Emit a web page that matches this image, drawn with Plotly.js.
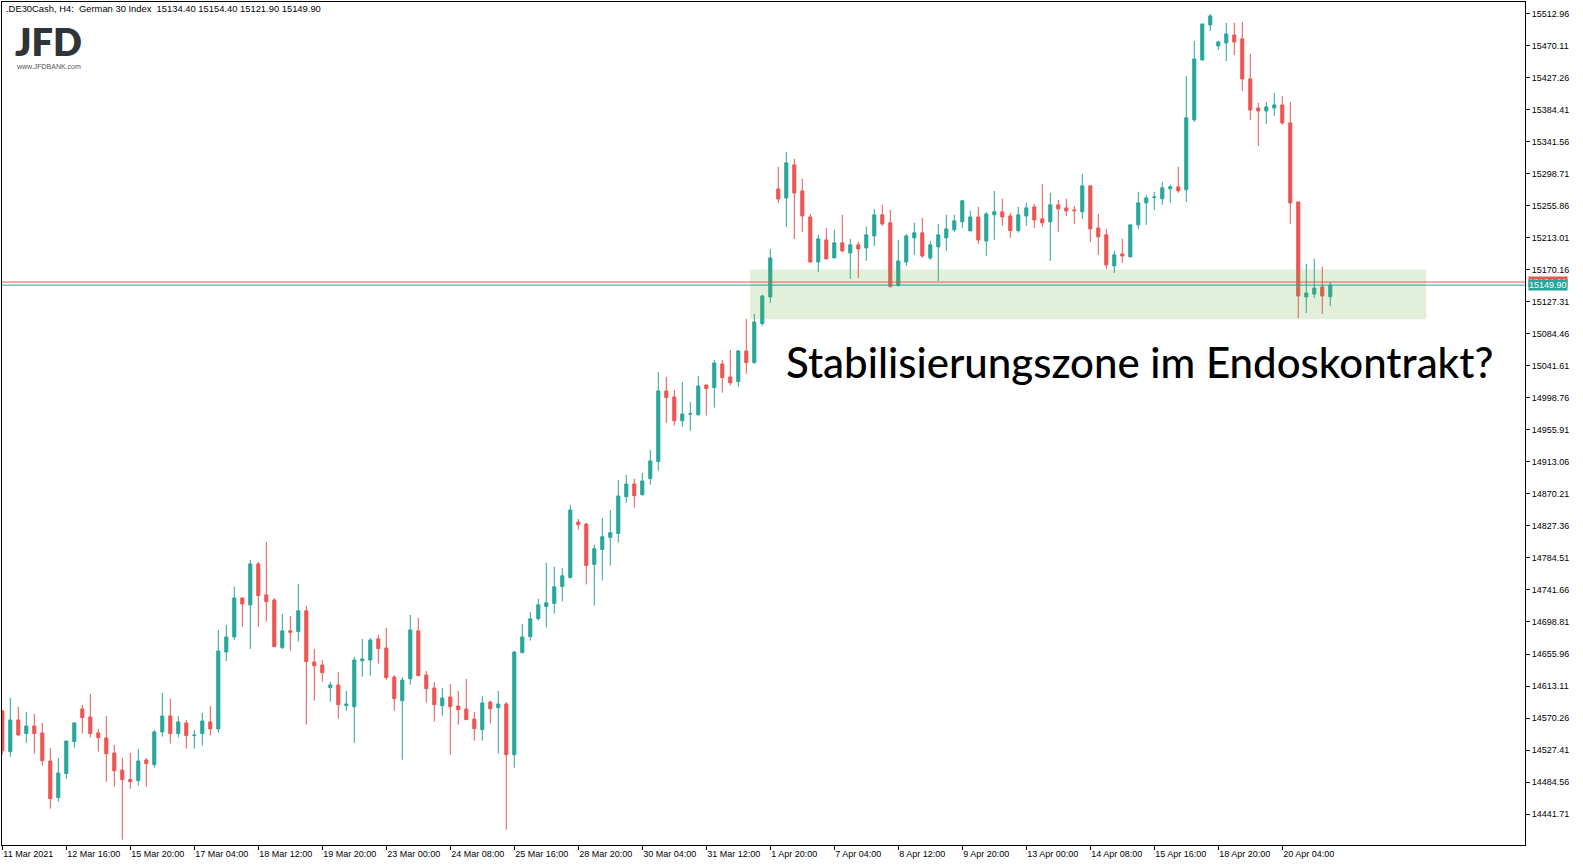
<!DOCTYPE html>
<html>
<head>
<meta charset="utf-8">
<script src="https://cdn.plot.ly/plotly-3.0.1.min.js"></script>
<style>
  html, body { margin:0; padding:0; background:#fff; }
  #chart { width:1583px; height:866px; }
</style>
</head>
<body>
<div id="chart"></div>
<script>
// ---- Data (DE30Cash H4) ----
const openP = [
14579.7,14525.2,14567.6,14549.4,14559.6,14550.3,14512.7,14463.6,14495.7,14538.6,
14582.4,14571.7,14550.3,14543.5,14523.4,14500.5,14487.8,14486.4,14514.0,14507.7,
14551.6,14573.0,14549.4,14563.6,14546.9,14549.4,14565.0,14555.6,14658.6,14678.8,
14731.0,14721.7,14776.6,14735.1,14728.3,14664.5,14686.9,14686.0,14713.8,14645.2,
14641.2,14610.9,14614.5,14586.8,14585.4,14647.0,14647.9,14676.1,14664.0,14625.1,
14593.4,14622.8,14686.9,14627.8,14610.4,14586.8,14598.4,14586.3,14582.3,14569.0,
14554.8,14591.7,14584.1,14589.0,14521.1,14657.7,14679.2,14703.4,14719.5,14723.6,
14746.3,14758.5,14832.7,14830.0,14775.9,14796.0,14812.1,14817.4,14866.6,14883.6,
14869.3,14890.8,14913.6,15008.2,15000.2,14968.3,14977.3,14976.4,15016.2,15012.7,
15044.3,15026.9,15020.7,15061.8,15046.1,15098.3,15134.0,15278.7,15266.6,15310.9,
15276.0,15241.2,15180.9,15210.4,15186.3,15206.5,15193.0,15203.8,15199.7,15215.8,
15244.0,15233.3,15149.3,15180.9,15213.1,15219.9,15186.3,15201.1,15213.1,15223.9,
15234.6,15222.5,15241.2,15209.1,15244.0,15248.0,15242.5,15222.9,15242.5,15254.6,
15238.6,15234.6,15257.4,15253.3,15250.6,15248.0,15282.8,15226.5,15217.2,15175.6,
15191.7,15187.7,15230.6,15260.0,15267.3,15265.5,15278.9,15281.5,15277.5,15371.2,
15451.3,15498.3,15470.2,15474.2,15484.9,15479.6,15426.0,15387.1,15383.1,15387.1,
15391.2,15367.1,15261.3,15134.0,15138.0,15147.5,15134.4
];
const highP = [
14581.0,14597.1,14585.1,14578.4,14575.7,14563.6,14530.1,14516.6,14539.5,14564.9,
14587.8,14602.5,14555.6,14573.0,14534.1,14516.6,14523.4,14528.8,14516.6,14554.3,
14603.9,14595.9,14573.0,14567.6,14554.3,14577.1,14586.4,14688.1,14694.9,14745.8,
14731.0,14781.9,14779.3,14806.1,14731.0,14709.6,14706.9,14749.8,14720.4,14662.7,
14647.9,14618.5,14631.8,14606.5,14652.0,14676.1,14677.4,14681.5,14690.8,14627.8,
14625.1,14708.3,14704.3,14633.2,14618.5,14610.4,14615.8,14606.5,14622.5,14578.4,
14599.8,14593.1,14606.5,14591.7,14660.0,14696.2,14712.3,14729.8,14778.0,14772.7,
14771.3,14855.6,14836.8,14831.4,14802.3,14838.1,14848.8,14889.1,14895.8,14890.5,
14898.5,14929.3,15033.6,15026.9,15009.5,15020.2,14993.5,15028.2,15016.2,15049.6,
15049.6,15063.1,15063.1,15104.6,15111.2,15136.7,15198.4,15308.1,15328.2,15318.9,
15292.1,15245.2,15217.2,15226.5,15223.9,15244.0,15211.8,15207.8,15228.0,15252.0,
15257.4,15250.7,15210.4,15218.5,15233.3,15240.0,15209.2,15231.9,15244.0,15244.0,
15264.1,15249.4,15254.6,15248.0,15276.0,15265.5,15246.7,15254.6,15260.0,15258.7,
15285.5,15273.5,15264.1,15265.5,15256.0,15298.9,15282.8,15245.2,15225.2,15195.7,
15211.8,15230.6,15274.8,15270.8,15274.8,15288.2,15284.2,15308.4,15430.1,15476.9,
15499.6,15513.1,15476.9,15501.0,15501.0,15502.3,15459.4,15393.9,15395.2,15407.3,
15403.2,15395.2,15261.3,15178.2,15185.0,15174.3,15154.4
];
const lowP = [
14521.4,14518.4,14546.2,14537.2,14522.5,14506.4,14448.8,14458.2,14488.9,14530.6,
14549.4,14544.0,14525.2,14484.9,14478.2,14407.3,14475.5,14479.6,14478.2,14503.7,
14545.3,14535.9,14544.0,14529.2,14529.2,14533.2,14546.7,14550.7,14646.6,14674.8,
14692.2,14662.7,14692.2,14699.3,14665.8,14662.7,14660.4,14672.6,14561.3,14593.4,
14618.9,14592.1,14569.4,14580.0,14537.2,14625.5,14626.9,14643.0,14621.5,14580.0,
14514.4,14614.8,14626.9,14590.8,14565.4,14573.4,14521.1,14561.3,14568.1,14539.9,
14539.9,14562.8,14522.5,14420.7,14503.7,14657.7,14673.9,14700.7,14691.4,14710.2,
14726.2,14757.1,14822.5,14749.1,14721.0,14754.4,14774.6,14805.3,14858.6,14851.9,
14868.0,14882.8,14901.5,14965.6,14961.7,14960.3,14954.9,14975.1,14975.1,14985.9,
15005.9,15015.3,15013.9,15031.2,15044.8,15095.6,15125.9,15259.9,15227.8,15211.7,
15221.1,15179.6,15167.5,15185.0,15186.3,15194.3,15158.2,15159.5,15182.3,15202.4,
15229.2,15146.6,15147.9,15175.6,15190.4,15186.3,15183.6,15155.5,15195.7,15221.1,
15226.5,15222.5,15205.1,15189.0,15210.4,15229.2,15213.1,15220.3,15229.2,15226.5,
15227.9,15182.3,15221.1,15242.5,15231.9,15238.6,15207.7,15190.4,15171.6,15166.2,
15179.6,15187.7,15225.2,15230.6,15250.6,15257.4,15260.0,15273.5,15261.3,15368.6,
15451.3,15490.2,15464.8,15450.0,15458.0,15409.9,15371.2,15336.2,15365.7,15376.4,
15364.4,15231.9,15105.9,15112.6,15132.6,15111.3,15121.9
];
const closeP = [
14526.5,14567.6,14547.6,14559.6,14549.4,14513.1,14462.2,14496.6,14539.5,14563.6,
14570.8,14549.4,14544.0,14522.5,14499.6,14487.8,14485.1,14512.7,14509.1,14551.6,
14573.0,14549.4,14565.0,14546.7,14547.3,14566.3,14555.6,14660.0,14678.8,14731.0,
14723.0,14776.6,14734.2,14726.1,14665.8,14686.9,14685.1,14713.8,14645.7,14640.3,
14630.9,14614.5,14588.1,14589.0,14647.9,14649.3,14674.7,14663.1,14624.2,14596.1,
14621.0,14688.1,14626.9,14609.5,14588.1,14597.0,14585.4,14581.4,14568.1,14556.0,
14590.4,14582.7,14589.0,14521.1,14658.6,14678.8,14703.0,14721.8,14724.5,14745.9,
14760.6,14848.8,14829.1,14774.6,14796.9,14813.0,14818.4,14867.5,14883.6,14868.0,
14887.7,14914.5,15008.2,14999.3,14968.3,14977.3,14977.7,15014.8,15011.3,15045.7,
15026.0,15019.3,15061.8,15046.1,15100.5,15135.3,15186.3,15265.3,15313.6,15273.3,
15242.5,15180.9,15211.8,15185.0,15206.5,15195.7,15203.8,15198.4,15217.2,15244.0,
15231.9,15147.9,15182.3,15215.8,15219.9,15189.0,15203.8,15217.2,15225.2,15236.0,
15262.8,15241.2,15210.4,15245.2,15248.0,15241.2,15222.9,15244.0,15253.3,15237.2,
15233.3,15257.4,15252.0,15249.3,15249.6,15282.8,15225.2,15214.5,15177.0,15190.4,
15189.0,15230.6,15260.0,15266.7,15267.9,15280.2,15281.5,15276.2,15373.9,15452.7,
15499.6,15510.4,15475.5,15486.2,15475.5,15426.0,15384.4,15383.1,15388.5,15391.2,
15367.1,15260.0,15135.3,15139.4,15146.1,15135.3,15149.9
];

// price-axis labels of the terminal
const yTickVals = [
15512.96,15470.11,15427.26,15384.41,15341.56,15298.71,15255.86,15213.01,15170.16,
15127.31,15084.46,15041.61,14998.76,14955.91,14913.06,14870.21,14827.36,14784.51,
14741.66,14698.81,14655.96,14613.11,14570.26,14527.41,14484.56,14441.71
];
// time labels (one every 8 bars)
const timeLabels = [
'11 Mar 2021','12 Mar 16:00','15 Mar 20:00','17 Mar 04:00','18 Mar 12:00',
'19 Mar 20:00','23 Mar 00:00','24 Mar 08:00','25 Mar 16:00','28 Mar 20:00',
'30 Mar 04:00','31 Mar 12:00','1 Apr 20:00','7 Apr 04:00','8 Apr 12:00',
'9 Apr 20:00','13 Apr 00:00','14 Apr 08:00','15 Apr 16:00','18 Apr 20:00',
'20 Apr 04:00'
];
const barsPerLabel = 8;

const bidPrice = 15149.90;
const askPrice = 15154.0;
const zoneTop = 15170.8;
const zoneBottom = 15104.1;
const zoneFromBar = 93.46;
const zoneToBar = 178.0;

const headerText = '.DE30Cash, H4:\u00a0\u00a0German 30 Index\u00a0\u00a015134.40 15154.40 15121.90 15149.90';
const noteText = 'Stabilisierungszone im Endoskontrakt?';

// ---- Chart ----
const UP = '#26a69a', DOWN = '#ef5350';
const xIdx = openP.map((_, i) => i);

const trace = {
  type: 'candlestick',
  x: xIdx, open: openP, high: highP, low: lowP, close: closeP,
  increasing: { line: { color: UP, width: 1 }, fillcolor: UP },
  decreasing: { line: { color: DOWN, width: 1 }, fillcolor: DOWN },
  whiskerwidth: 0,
  hoverinfo: 'skip'
};

const axisFont = { family: 'Liberation Sans, Arial, sans-serif', size: 9, color: '#000' };

const layout = {
  width: 1583, height: 866,
  margin: { l: 2, r: 58, t: 2, b: 21, pad: 0 },
  paper_bgcolor: '#ffffff', plot_bgcolor: '#ffffff',
  showlegend: false,
  boxgap: 0.45,
  xaxis: {
    type: 'linear',
    range: [-0.0375, 190.34],
    showgrid: false, zeroline: false,
    showline: true, mirror: true, linecolor: '#000', linewidth: 1,
    ticks: 'outside', ticklen: 4, tickcolor: '#000', tickwidth: 1,
    tickvals: timeLabels.map((_, k) => k * barsPerLabel),
    ticktext: timeLabels,
    ticklabelposition: 'outside right',
    tickfont: axisFont,
    rangeslider: { visible: false },
    fixedrange: true
  },
  yaxis: {
    side: 'right',
    range: [14400.2, 15529.0],
    showgrid: false, zeroline: false,
    showline: true, mirror: true, linecolor: '#000', linewidth: 1,
    ticks: 'outside', ticklen: 4, tickcolor: '#000', tickwidth: 1,
    tickvals: yTickVals,
    ticktext: yTickVals.map(v => v.toFixed(2)),
    tickfont: axisFont,
    fixedrange: true
  },
  shapes: [
    { type: 'rect', xref: 'x', yref: 'y', x0: zoneFromBar, x1: zoneToBar, y0: zoneBottom, y1: zoneTop,
      fillcolor: 'rgba(112,173,71,0.2)', line: { width: 0 }, layer: 'above' },
    { type: 'line', xref: 'paper', yref: 'y', x0: 0, x1: 1, y0: askPrice, y1: askPrice,
      line: { color: '#ef5350', width: 1 }, layer: 'above' },
    { type: 'line', xref: 'paper', yref: 'y', x0: 0, x1: 1, y0: bidPrice, y1: bidPrice,
      line: { color: '#26a69a', width: 1 }, layer: 'above' }
  ],
  annotations: [
    { xref: 'paper', yref: 'paper', x: 0.0013, y: 0.9918, xanchor: 'left', yanchor: 'middle',
      text: headerText, showarrow: false, font: { family: 'Liberation Sans, Arial, sans-serif', size: 9.4, color: '#000' } },
    { xref: 'paper', yref: 'paper', x: 0.0072, y: 0.9537, xanchor: 'left', yanchor: 'middle',
      text: 'JFD', showarrow: false, font: { family: 'Lato, sans-serif', size: 38, weight: 800, color: '#2f3439' } },
    { xref: 'paper', yref: 'paper', x: 0.0082, y: 0.9232, xanchor: 'left', yanchor: 'middle',
      text: 'www.JFDBANK.com', showarrow: false, font: { family: 'Liberation Sans, Arial, sans-serif', size: 7, color: '#555' } },
    { xref: 'paper', yref: 'paper', x: 0.7472, y: 0.5730, xanchor: 'center', yanchor: 'middle',
      text: noteText, showarrow: false, font: { family: 'Lato, sans-serif', size: 42, weight: 500, color: '#000' } },
    { xref: 'paper', yref: 'y', x: 1, xshift: 3, y: askPrice, xanchor: 'left', yanchor: 'middle',
      text: askPrice.toFixed(2), showarrow: false, bgcolor: '#ef5350', borderpad: 0,
      font: { family: 'Liberation Sans, Arial, sans-serif', size: 9, color: '#fff' } },
    { xref: 'paper', yref: 'y', x: 1, xshift: 3, y: bidPrice, xanchor: 'left', yanchor: 'middle',
      text: bidPrice.toFixed(2), showarrow: false, bgcolor: '#26a69a', borderpad: 0,
      font: { family: 'Liberation Sans, Arial, sans-serif', size: 9, color: '#fff' } }
  ]
};

Plotly.newPlot('chart', [trace], layout, { displayModeBar: false, staticPlot: true });
</script>
</body>
</html>
